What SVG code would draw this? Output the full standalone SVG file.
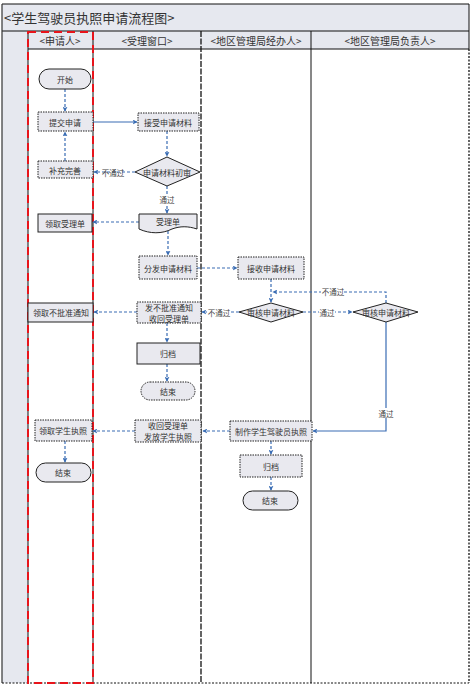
<svg xmlns="http://www.w3.org/2000/svg" width="474" height="686" viewBox="0 0 474 686">
<defs>
<marker id="ah" viewBox="0 0 8 8" refX="7" refY="4" markerWidth="5" markerHeight="5" orient="auto" markerUnits="userSpaceOnUse">
<path d="M0,0 L8,4 L0,8 L2,4 Z" fill="#3a6db4"/>
</marker>
<style>
.bg{fill:#e6e8ef}
.t{font-family:"Noto Sans CJK SC","Liberation Sans",sans-serif;fill:#333;text-anchor:middle;dominant-baseline:central}
.n{font-size:8px}
.h{font-size:10px}
.box{fill:#e9e9ef;stroke:#222;stroke-width:1}
.dot{stroke-dasharray:1.5,1}
.c{fill:none;stroke:#3a6db4;stroke-width:1.2;marker-end:url(#ah)}
.d{stroke-dasharray:3,2}
.lab{font-size:7.5px;fill:#444}
</style>
</defs>
<rect x="0" y="0" width="474" height="686" fill="#fff"/>
<g id="frame">
<rect class="bg" x="2" y="4" width="467" height="45"/>
<rect class="bg" x="2" y="49" width="26" height="634"/>
<line x1="2" y1="4" x2="469" y2="4" stroke="#111"/>
<line x1="2" y1="31" x2="469" y2="31" stroke="#111"/>
<line x1="28" y1="49" x2="469" y2="49" stroke="#111"/>
<line x1="2" y1="4" x2="2" y2="683" stroke="#333" stroke-width="1.2"/>
<line x1="469" y1="4" x2="469" y2="49" stroke="#111"/>
<line x1="469" y1="49" x2="469" y2="683" stroke="#111" stroke-width="1.3" stroke-dasharray="2,1.5"/>
<line x1="2" y1="683" x2="469" y2="683" stroke="#111" stroke-dasharray="2,1.5"/>
<line x1="28" y1="31" x2="28" y2="683" stroke="#111"/>
<line x1="93" y1="31" x2="93" y2="683" stroke="#111"/>
<line x1="201" y1="31" x2="201" y2="683" stroke="#111" stroke-width="1.3" stroke-dasharray="6,1.5"/>
<line x1="311" y1="31" x2="311" y2="683" stroke="#111"/>
<rect x="28" y="32" width="65" height="651" fill="none" stroke="#e8141b" stroke-width="2" stroke-dasharray="8,5"/>
<text class="t" x="4" y="17" style="font-size:13px;text-anchor:start">&lt;学生驾驶员执照申请流程图&gt;</text>
<text class="t h" x="60" y="40">&lt;申请人&gt;</text>
<text class="t h" x="147" y="40">&lt;受理窗口&gt;</text>
<text class="t h" x="256" y="40">&lt;地区管理局经办人&gt;</text>
<text class="t h" x="390" y="40">&lt;地区管理局负责人&gt;</text>
</g>
<g id="connectors">
<line class="c d" x1="65" y1="89" x2="65" y2="111"/>
<line class="c" x1="93" y1="122" x2="137" y2="122"/>
<line class="c d" x1="167" y1="131" x2="167" y2="156"/>
<line class="c d" x1="135" y1="172" x2="94" y2="172"/>
<text class="t lab" x="113" y="172">不通过</text>
<line class="c d" x1="65" y1="161" x2="65" y2="132"/>
<line class="c d" x1="167" y1="186" x2="167" y2="213"/>
<rect x="158" y="195" width="18" height="9" fill="#fff"/>
<text class="t lab" x="167" y="199">通过</text>
<line class="c d" x1="139" y1="222" x2="93" y2="222"/>
<line class="c d" x1="168" y1="231" x2="168" y2="255"/>
<line class="c d" x1="197" y1="268" x2="237" y2="268"/>
<line class="c d" x1="271" y1="279" x2="271" y2="302"/>
<polyline class="c d" points="386,303 386,292 273,292"/>
<rect x="321" y="287" width="23" height="9" fill="#fff"/>
<text class="t lab" x="333" y="291">不通过</text>
<line class="c d" x1="303" y1="312" x2="352" y2="312"/>
<rect x="319" y="307" width="16" height="9" fill="#fff"/>
<text class="t lab" x="327" y="312">通过</text>
<line class="c d" x1="239" y1="312" x2="202" y2="312"/>
<rect x="207" y="307" width="24" height="9" fill="#fff"/>
<text class="t lab" x="219" y="312">不通过</text>
<line class="c d" x1="137" y1="312" x2="94" y2="312"/>
<line class="c d" x1="167" y1="323" x2="167" y2="342"/>
<line class="c d" x1="167" y1="364" x2="167" y2="381"/>
<polyline class="c" points="386,322 386,431 313,431"/>
<rect x="377" y="408" width="18" height="10" fill="#fff"/>
<text class="t lab" x="386" y="413">通过</text>
<line class="c d" x1="230" y1="431" x2="203" y2="431"/>
<line class="c d" x1="135" y1="431" x2="93" y2="431"/>
<line class="c d" x1="65" y1="441" x2="65" y2="462"/>
<line class="c d" x1="271" y1="441" x2="271" y2="454"/>
<line class="c d" x1="271" y1="477" x2="271" y2="490"/>
</g>
<g id="n-start">
<rect class="box" x="39" y="69" width="52" height="20" rx="10"/>
<text class="t n" x="65" y="79">开始</text>
</g>
<g id="n-submit">
<rect class="box dot" x="38" y="112" width="55" height="19"/>
<text class="t n" x="65" y="122">提交申请</text>
</g>
<g id="n-supplement">
<rect class="box dot" x="38" y="161" width="55" height="17"/>
<text class="t n" x="65" y="170">补充完善</text>
</g>
<g id="n-receive">
<rect class="box dot" x="138" y="113" width="61" height="18"/>
<text class="t n" x="168" y="122">接受申请材料</text>
</g>
<g id="n-review1">
<polygon class="box" points="135,172 167,157 200,172 167,186"/>
<text class="t n" x="167" y="172">申请材料初审</text>
</g>
<g id="n-slip">
<path class="box" d="M139,214 H197 V229 C188,226 180,226 172,229 C162,234 150,234 139,229 Z"/>
<text class="t n" x="168" y="221">受理单</text>
</g>
<g id="n-getslip">
<rect class="box" x="38" y="214" width="54" height="18"/>
<text class="t n" x="65" y="223">领取受理单</text>
</g>
<g id="n-distribute">
<rect class="box dot" x="139" y="256" width="58" height="23"/>
<text class="t n" x="168" y="268">分发申请材料</text>
</g>
<g id="n-agent-receive">
<rect class="box dot" x="238" y="257" width="66" height="22"/>
<text class="t n" x="271" y="268">接收申请材料</text>
</g>
<g id="n-agent-review">
<polygon class="box" points="239,312 271,303 303,312 271,322"/>
<text class="t n" x="271" y="312">审核申请材料</text>
</g>
<g id="n-director-review">
<polygon class="box" points="353,312 386,303 418,312 386,322"/>
<text class="t n" x="386" y="312">审核申请材料</text>
</g>
<g id="n-reject">
<rect class="box dot" x="137" y="302" width="64" height="21"/>
<text class="t n" x="169" y="307">发不批准通知</text>
<text class="t n" x="169" y="318">收回受理单</text>
</g>
<g id="n-getreject">
<rect class="box" x="28" y="303" width="65" height="19"/>
<text class="t n" x="61" y="312">领取不批准通知</text>
</g>
<g id="n-archive1">
<rect class="box" x="137" y="343" width="63" height="21"/>
<text class="t n" x="168" y="353">归档</text>
</g>
<g id="n-end1">
<rect class="box dot" x="141" y="382" width="54" height="18" rx="9"/>
<text class="t n" x="168" y="391">结束</text>
</g>
<g id="n-make">
<rect class="box dot" x="230" y="421" width="82" height="20"/>
<text class="t n" x="271" y="431">制作学生驾驶员执照</text>
</g>
<g id="n-issue">
<rect class="box dot" x="135" y="420" width="66" height="22"/>
<text class="t n" x="168" y="425">收回受理单</text>
<text class="t n" x="168" y="436">发放学生执照</text>
</g>
<g id="n-getlicense">
<rect class="box dot" x="35" y="420" width="57" height="21"/>
<text class="t n" x="63" y="430">领取学生执照</text>
</g>
<g id="n-end2">
<rect class="box" x="36" y="463" width="55" height="19" rx="9.5"/>
<text class="t n" x="63" y="472">结束</text>
</g>
<g id="n-archive2">
<rect class="box dot" x="240" y="455" width="62" height="22"/>
<text class="t n" x="271" y="466">归档</text>
</g>
<g id="n-end3">
<rect class="box" x="243" y="491" width="55" height="19" rx="9.5"/>
<text class="t n" x="270" y="500">结束</text>
</g>
</svg>
